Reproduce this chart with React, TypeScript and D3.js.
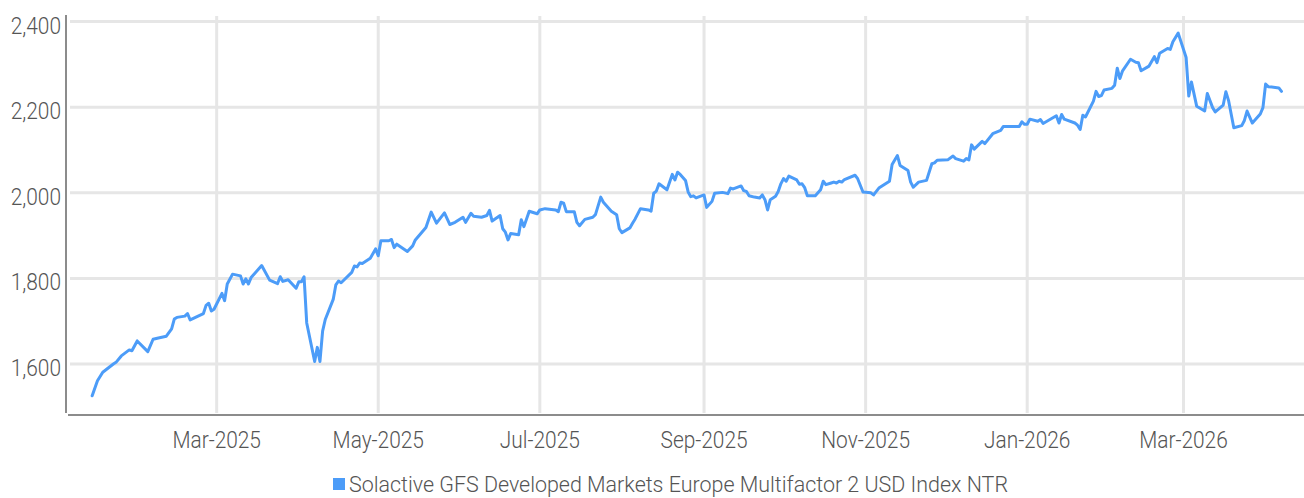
import React from "react";
import * as d3 from "d3";

const SERIES_NAME = "Solactive GFS Developed Markets Europe Multifactor 2 USD Index NTR";

const dates: string[] = [
  "2025-01-13","2025-01-15","2025-01-17","2025-01-21","2025-01-22","2025-01-24","2025-01-27","2025-01-28","2025-01-30",
  "2025-02-03","2025-02-05","2025-02-07","2025-02-10","2025-02-12","2025-02-13","2025-02-14","2025-02-17","2025-02-18",
  "2025-02-19","2025-02-21","2025-02-24","2025-02-25","2025-02-26","2025-02-27","2025-02-28",
  "2025-03-03","2025-03-04","2025-03-05","2025-03-07","2025-03-10","2025-03-11","2025-03-12","2025-03-13","2025-03-14",
  "2025-03-18","2025-03-21","2025-03-24","2025-03-25","2025-03-26","2025-03-28","2025-03-31",
  "2025-04-01","2025-04-02","2025-04-03","2025-04-04","2025-04-07","2025-04-08","2025-04-09","2025-04-10","2025-04-11",
  "2025-04-14","2025-04-15","2025-04-16","2025-04-17","2025-04-21","2025-04-22","2025-04-23","2025-04-24","2025-04-25",
  "2025-04-28","2025-04-30",
  "2025-05-01","2025-05-02","2025-05-05","2025-05-06","2025-05-07","2025-05-08","2025-05-12","2025-05-14","2025-05-15",
  "2025-05-19","2025-05-21","2025-05-23","2025-05-26","2025-05-28","2025-05-30",
  "2025-06-02","2025-06-03","2025-06-05","2025-06-06","2025-06-09","2025-06-11","2025-06-12","2025-06-13","2025-06-16",
  "2025-06-17","2025-06-18","2025-06-19","2025-06-20","2025-06-23","2025-06-24","2025-06-25","2025-06-27","2025-06-30",
  "2025-07-01","2025-07-03","2025-07-07","2025-07-08","2025-07-09","2025-07-10","2025-07-11","2025-07-14","2025-07-15",
  "2025-07-16","2025-07-18","2025-07-21","2025-07-22","2025-07-24","2025-07-25","2025-07-28","2025-07-30","2025-07-31",
  "2025-08-01","2025-08-04","2025-08-05","2025-08-06","2025-08-08","2025-08-11","2025-08-12","2025-08-13","2025-08-14",
  "2025-08-15","2025-08-18","2025-08-20","2025-08-21","2025-08-22","2025-08-23","2025-08-25","2025-08-26","2025-08-27",
  "2025-08-28","2025-08-29",
  "2025-09-01","2025-09-02","2025-09-04","2025-09-05","2025-09-08","2025-09-10","2025-09-11","2025-09-12","2025-09-15",
  "2025-09-16","2025-09-17","2025-09-18","2025-09-20","2025-09-22","2025-09-23","2025-09-24","2025-09-25","2025-09-26",
  "2025-09-28","2025-09-29","2025-09-30",
  "2025-10-01","2025-10-02","2025-10-03","2025-10-06","2025-10-07","2025-10-08","2025-10-09","2025-10-10","2025-10-13",
  "2025-10-14","2025-10-15","2025-10-16","2025-10-17","2025-10-19","2025-10-20","2025-10-21","2025-10-22","2025-10-23",
  "2025-10-24","2025-10-28","2025-10-29","2025-10-31",
  "2025-11-03","2025-11-04","2025-11-06","2025-11-10","2025-11-11","2025-11-13","2025-11-14","2025-11-17","2025-11-18",
  "2025-11-19","2025-11-21","2025-11-24","2025-11-26","2025-11-27","2025-11-28",
  "2025-12-02","2025-12-04","2025-12-05","2025-12-08","2025-12-09","2025-12-10","2025-12-11","2025-12-12","2025-12-15",
  "2025-12-16","2025-12-19","2025-12-22","2025-12-23","2025-12-29","2025-12-30","2025-12-31",
  "2026-01-01","2026-01-02","2026-01-05","2026-01-06","2026-01-07","2026-01-12","2026-01-13","2026-01-14","2026-01-15",
  "2026-01-19","2026-01-20","2026-01-21","2026-01-22","2026-01-23","2026-01-26","2026-01-27","2026-01-28","2026-01-29",
  "2026-01-30",
  "2026-02-02","2026-02-03","2026-02-04","2026-02-05","2026-02-06","2026-02-09","2026-02-11","2026-02-12","2026-02-13",
  "2026-02-16","2026-02-18","2026-02-19","2026-02-20","2026-02-23","2026-02-24","2026-02-25","2026-02-27",
  "2026-03-02","2026-03-03","2026-03-04","2026-03-06","2026-03-09","2026-03-10","2026-03-12","2026-03-13","2026-03-16",
  "2026-03-17","2026-03-18","2026-03-20","2026-03-23","2026-03-24","2026-03-25","2026-03-27","2026-03-30","2026-03-31",
  "2026-04-01","2026-04-02","2026-04-06","2026-04-07",
];

const values: number[] = [
  1526,1561,1581,1600,1604,1619,1633,1631,1654,
  1629,1658,1661,1665,1682,1705,1709,1712,1718,
  1703,1709,1718,1737,1742,1724,1728,
  1765,1748,1787,1810,1806,1787,1799,1787,1802,
  1830,1796,1788,1804,1793,1797,1777,
  1792,1792,1804,1696,1606,1639,1606,1677,1704,
  1751,1785,1794,1790,1814,1829,1827,1836,1835,
  1847,1869,
  1853,1888,1888,1891,1872,1880,1863,1876,1890,
  1919,1955,1929,1953,1926,1931,
  1943,1931,1952,1945,1943,1947,1959,1934,1947,
  1916,1908,1890,1905,1902,1937,1921,1957,1951,
  1960,1963,1960,1956,1978,1976,1956,1956,1931,
  1923,1938,1943,1949,1990,1978,1957,1949,1916,
  1907,1918,1929,1939,1963,1960,1957,1999,2004,
  2021,2007,2043,2030,2048,2043,2029,2002,1991,
  1993,1988,
  1995,1966,1980,1999,2001,1998,2011,2009,2016,
  2005,2003,1993,1990,1988,1995,1984,1960,1984,
  1992,2003,2021,
  2033,2027,2039,2030,2020,2021,2012,1993,1993,
  2000,2007,2027,2019,2023,2025,2023,2027,2025,
  2031,2041,2033,2002,
  2000,1995,2011,2027,2066,2087,2064,2052,2025,
  2013,2025,2029,2068,2070,2076,
  2077,2086,2080,2074,2080,2077,2112,2102,2120,
  2115,2138,2146,2155,2155,2166,2160,
  2160,2172,2167,2171,2162,2180,2163,2183,2172,
  2163,2158,2148,2181,2177,2214,2237,2225,2227,
  2240,
  2244,2251,2291,2267,2285,2312,2305,2304,2285,
  2296,2318,2304,2326,2337,2335,2353,2373,
  2316,2226,2259,2202,2191,2232,2199,2189,2205,
  2236,2216,2152,2157,2169,2191,2163,2184,2199,
  2254,2248,2245,2237,
];

const yTicks: number[] = [1600, 1800, 2000, 2200, 2400];
const yDomain: number[] = [1481, 2413];
const xDomain: string[] = ["2025-01-03T12:00", "2026-04-15T12:00"];

const W = 1304;
const H = 498;
const LEFT = 67;
const RIGHT = 1304;
const TOP = 16;
const BOTTOM = 415;

const LINE_COLOR = "#4c9cf8";
const GRID_COLOR = "#e6e6e6";
const AXIS_COLOR = "#8c8c8c";
const TEXT_COLOR = "#555555";
const FONT = "Roboto, 'Open Sans', sans-serif";

export default function App() {
  const parse = d3.timeParse("%Y-%m-%d");
  const data = dates.map((d, i) => ({ date: parse(d) as Date, value: values[i] }));

  const x = d3
    .scaleTime()
    .domain([new Date(xDomain[0]), new Date(xDomain[1])])
    .range([LEFT, RIGHT]);
  const y = d3.scaleLinear().domain(yDomain).range([BOTTOM, TOP]);

  const xTicks = x.ticks(d3.timeMonth.every(2) as any);
  const fmtX = d3.timeFormat("%b-%Y");
  const fmtY = d3.format(",");

  const line = d3
    .line<{ date: Date; value: number }>()
    .x((d) => x(d.date))
    .y((d) => y(d.value));

  const sx = 0.87;

  return (
    <svg
      width={W}
      height={H}
      style={{ position: "absolute", left: 0, top: 0, background: "#fff" }}
      fontFamily={FONT}
    >
      {yTicks.map((t) => (
        <line key={"hg" + t} x1={LEFT + 3} x2={RIGHT} y1={y(t)} y2={y(t)} stroke={GRID_COLOR} strokeWidth={3} />
      ))}
      {xTicks.map((t) => (
        <line
          key={"vg" + t.getTime()}
          x1={x(t)}
          x2={x(t)}
          y1={TOP}
          y2={BOTTOM - 2}
          stroke={GRID_COLOR}
          strokeWidth={3}
        />
      ))}
      <line x1={LEFT - 1} x2={LEFT - 1} y1={TOP - 1} y2={BOTTOM - 2} stroke={AXIS_COLOR} strokeWidth={2} />
      <line x1={LEFT + 1} x2={RIGHT} y1={BOTTOM} y2={BOTTOM} stroke={AXIS_COLOR} strokeWidth={2} />

      {yTicks.map((t) => (
        <text
          key={"yl" + t}
          transform={`translate(${LEFT - 6},${y(t) + 12}) scale(${sx},1)`}
          textAnchor="end"
          fontSize={24}
          fontWeight={300}
          fill={TEXT_COLOR}
        >
          {fmtY(t)}
        </text>
      ))}
      {xTicks.map((t) => (
        <text
          key={"xl" + t.getTime()}
          transform={`translate(${x(t)},${BOTTOM + 33}) scale(${sx},1)`}
          textAnchor="middle"
          fontSize={24}
          fontWeight={300}
          fill={TEXT_COLOR}
        >
          {fmtX(t)}
        </text>
      ))}

      <path
        d={line(data) || ""}
        fill="none"
        stroke={LINE_COLOR}
        strokeWidth={3}
        strokeLinejoin="round"
        strokeLinecap="round"
      />

      <rect x={333} y={478} width={12} height={12} fill={LINE_COLOR} />
      <text
        x={349}
        y={492}
        fontSize={22}
        fontWeight={300}
        fill={TEXT_COLOR}
        textLength={659}
        lengthAdjust="spacingAndGlyphs"
      >
        {SERIES_NAME}
      </text>
    </svg>
  );
}
